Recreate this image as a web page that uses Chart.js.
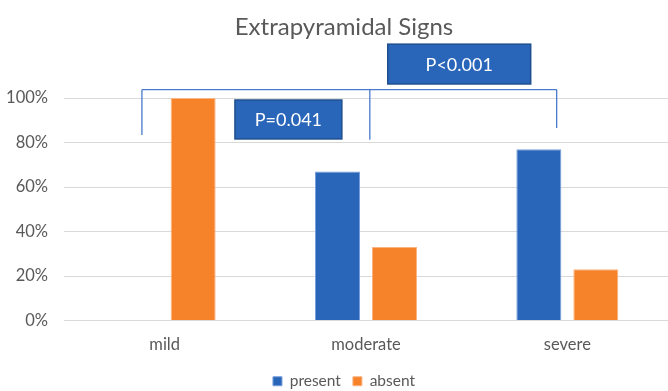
<!DOCTYPE html>
<html>
<head>
<meta charset="utf-8">
<script src="https://cdn.jsdelivr.net/npm/chart.js@4"></script>
<style>
  html, body { margin: 0; padding: 0; background: #fff; }
  canvas { display: block; }
</style>
</head>
<body>
<canvas id="signsChart" width="668" height="391"></canvas>
<script>
// data
const categories = ['mild', 'moderate', 'severe'];
const presentValues = [0, 67, 77];
const absentValues = [100, 33, 23];
const yTicks = [0, 20, 40, 60, 80, 100];

// significance brackets: category index (fractional) and % value
const bracketTop = 103.8;
const bracketLegs = [
    { x: -0.113, bottom: 83.4 },
    { x: 1.019, bottom: 81.2 },
    { x: 1.947, bottom: 86.5 }
];
const pLabels = ['P=0.041', 'P<0.001'];
const pBoxes = [
    { x0: 0.349, x1: 0.880, top: 99.1, bottom: 81.6 },
    { x0: 1.108, x1: 1.818, top: 124.2, bottom: 106.3 }
];

const blue = 'rgb(41, 101, 184)';
const orange = 'rgb(246, 130, 42)';
const textGrey = '#595959';
const fontFamily = 'Lato, "Noto Sans", sans-serif';

// the y labels are drawn here so they are not clipped by the narrow axis box
const yLabelPlugin = {
    id: 'yLabels',
    afterDraw(chart) {
        const ctx = chart.ctx;
        const ys = chart.scales.y;
        ctx.save();
        ctx.fillStyle = textGrey;
        ctx.font = '16.5px ' + fontFamily;
        ctx.textAlign = 'right';
        ctx.textBaseline = 'middle';
        yTicks.forEach(function (v) {
            ctx.fillText(v + '%', chart.chartArea.left - 16, ys.getPixelForValue(v));
        });
        ctx.restore();
    }
};

// title, centred like the reference (slightly left of the plot centre)
const titlePlugin = {
    id: 'sideTitle',
    afterDraw(chart) {
        const ctx = chart.ctx;
        ctx.save();
        ctx.fillStyle = textGrey;
        ctx.font = '24px ' + fontFamily;
        ctx.textAlign = 'center';
        ctx.textBaseline = 'middle';
        ctx.fillText('Extrapyramidal Signs', (chart.width + 20) / 2, 27);
        ctx.restore();
    }
};

// brackets and P boxes
const bracketPlugin = {
    id: 'brackets',
    afterDatasetsDraw(chart) {
        const ctx = chart.ctx;
        const xs = chart.scales.x;
        const ys = chart.scales.y;
        ctx.save();
        ctx.strokeStyle = '#4a7bcc';
        ctx.lineWidth = 1.3;
        const topY = ys.getPixelForValue(bracketTop);
        const xl = xs.getPixelForValue(bracketLegs[0].x);
        const xr = xs.getPixelForValue(bracketLegs[bracketLegs.length - 1].x);
        ctx.beginPath();
        ctx.moveTo(xl, topY);
        ctx.lineTo(xr, topY);
        bracketLegs.forEach(function (leg) {
            const x = xs.getPixelForValue(leg.x);
            ctx.moveTo(x, topY);
            ctx.lineTo(x, ys.getPixelForValue(leg.bottom));
        });
        ctx.stroke();

        pBoxes.forEach(function (b, i) {
            const x0 = xs.getPixelForValue(b.x0);
            const x1 = xs.getPixelForValue(b.x1);
            const y0 = ys.getPixelForValue(b.top);
            const y1 = ys.getPixelForValue(b.bottom);
            ctx.fillStyle = blue;
            ctx.fillRect(x0, y0, x1 - x0, y1 - y0);
            ctx.strokeStyle = '#1f4f8f';
            ctx.lineWidth = 1.5;
            ctx.strokeRect(x0, y0, x1 - x0, y1 - y0);
            ctx.fillStyle = '#ffffff';
            ctx.font = '18px ' + fontFamily;
            ctx.textAlign = 'center';
            ctx.textBaseline = 'middle';
            ctx.fillText(pLabels[i], (x0 + x1) / 2, (y0 + y1) / 2 + 1);
        });
        ctx.restore();
    }
};

const ctx = document.getElementById('signsChart').getContext('2d');
new Chart(ctx, {
    type: 'bar',
    data: {
        labels: categories,
        datasets: [
            {
                label: 'present',
                data: presentValues,
                backgroundColor: blue,
                borderColor: 'rgb(120, 160, 220)',
                borderWidth: 1
            },
            {
                label: 'absent',
                data: absentValues,
                backgroundColor: orange,
                borderColor: 'rgb(250, 180, 130)',
                borderWidth: 1
            }
        ]
    },
    options: {
        responsive: false,
        animation: false,
        layout: { padding: { left: 20, right: 0, top: 98, bottom: -8 } },
        datasets: {
            bar: { categoryPercentage: 0.566, barPercentage: 0.79 }
        },
        scales: {
            x: {
                grid: { display: false },
                border: { display: false },
                ticks: {
                    color: textGrey,
                    padding: 6,
                    font: { family: fontFamily, size: 16.5 }
                },
                afterFit: function (scale) { scale.height = 41; }
            },
            y: {
                min: 0,
                max: 100,
                afterBuildTicks: function (scale) {
                    scale.ticks = yTicks.map(function (v) { return { value: v }; });
                },
                grid: { color: '#d9d9d9', lineWidth: 1, drawTicks: false },
                border: { display: false },
                ticks: { display: false },
                afterFit: function (scale) { scale.width = 44; }
            }
        },
        plugins: {
            title: { display: false },
            legend: {
                position: 'bottom',
                labels: {
                    color: textGrey,
                    boxWidth: 9,
                    boxHeight: 9,
                    padding: 12,
                    font: { family: fontFamily, size: 15.5 }
                }
            },
            tooltip: { enabled: false }
        }
    },
    plugins: [bracketPlugin, yLabelPlugin, titlePlugin]
});
</script>
</body>
</html>
